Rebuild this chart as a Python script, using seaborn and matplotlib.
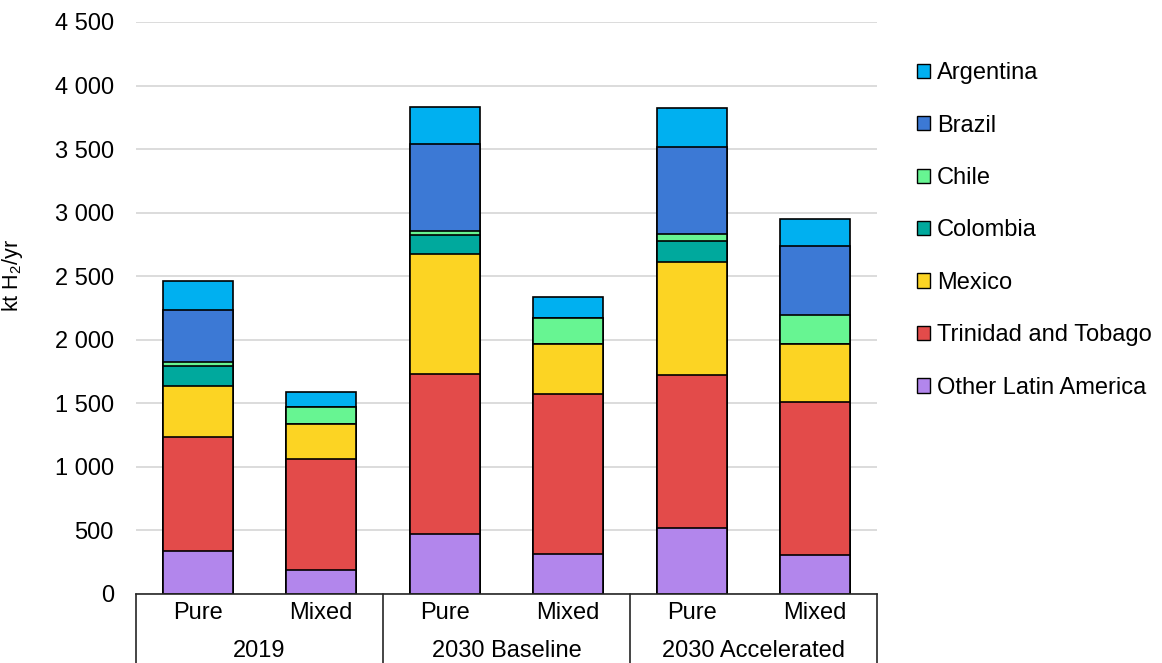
"""
Latin America hydrogen demand, stacked by country
"""
import numpy as np
import pandas as pd
import matplotlib
matplotlib.use('Agg')
import matplotlib.pyplot as plt
import matplotlib.transforms as mtransforms
from matplotlib.patches import Patch
from matplotlib.ticker import FuncFormatter, MultipleLocator
import seaborn as sns

# Data (kt H2/yr), bar order: 2019 Pure/Mixed, 2030 Baseline Pure/Mixed, 2030 Accelerated Pure/Mixed
scenarios = ['2019', '2030 Baseline', '2030 Accelerated']
types = ['Pure', 'Mixed']

other = [340, 183, 471, 312, 521, 304]
trinidad = [895, 877, 1258, 1263, 1203, 1206]
mexico = [400, 275, 948, 393, 887, 453]
colombia = [155, 0, 147, 0, 168, 6]
chile = [30, 135, 33, 201, 52, 227]
brazil = [410, 0, 686, 0, 688, 539]
argentina = [235, 118, 285, 168, 304, 217]

# bottom to top of the stack
countries = ['Other Latin America', 'Trinidad and Tobago', 'Mexico', 'Colombia',
             'Chile', 'Brazil', 'Argentina']
colors = ['#B286EC', '#E34B4A', '#FCD423', '#00A99D', '#67F592', '#3C79D5', '#00B0F0']

# Setup
sns.set_style('white')
plt.rcParams['font.family'] = ['Liberation Sans', 'DejaVu Sans']
plt.rcParams['mathtext.default'] = 'regular'
plt.rcParams['text.color'] = 'black'
plt.rcParams['xtick.color'] = 'black'
plt.rcParams['ytick.color'] = 'black'
plt.rcParams['axes.labelcolor'] = 'black'
FS = 17

bars = [f'{s}|{t}' for s in scenarios for t in types]
df = pd.DataFrame({'bar': bars, 'Other Latin America': other, 'Trinidad and Tobago': trinidad,
                   'Mexico': mexico, 'Colombia': colombia, 'Chile': chile,
                   'Brazil': brazil, 'Argentina': argentina})
cum = df[countries].cumsum(axis=1)

W, H = 1162, 663
fig = plt.figure(figsize=(W / 100, H / 100), dpi=100)
ax = fig.add_axes([136 / W, 1 - 593.7 / H, (877 - 136) / W, 571.7 / H])

# draw cumulative totals from the top layer down so each layer covers the one above
for country, color in reversed(list(zip(countries, colors))):
    sns.barplot(x=df['bar'], y=cum[country], order=bars, color=color, saturation=1,
                edgecolor='black', linewidth=1.2, width=0.567, errorbar=None, ax=ax)

ax.set_xlim(-0.5, len(bars) - 0.5)
ax.set_ylim(0, 4500)
ax.yaxis.set_major_locator(MultipleLocator(500))
ax.yaxis.set_major_formatter(FuncFormatter(lambda v, p: f'{int(v):,}'.replace(',', ' ')))
ax.grid(axis='y', color='#D9D9D9', linewidth=1.3)
ax.set_axisbelow(True)
for side in ['left', 'right', 'top']:
    ax.spines[side].set_visible(False)
ax.spines['bottom'].set_color('#262626')
ax.spines['bottom'].set_linewidth(1.2)

ax.tick_params(axis='y', length=0, pad=16, labelsize=FS)
ax.tick_params(axis='x', length=0, pad=6, labelsize=FS)
ax.set_xticks(range(len(bars)))
ax.set_xticklabels([b.split('|')[1] for b in bars])
ax.set_xlabel('')
ax.set_ylabel('kt H$_2$/yr', fontsize=15.5)
ax.yaxis.set_label_coords(-0.150, 0.557)

# multi-level category axis
trans = mtransforms.blended_transform_factory(ax.transData, ax.transAxes)
for i, s in enumerate(scenarios):
    ax.text(2 * i + 0.5, -57.3 / 571.7, s, transform=trans, ha='center', va='center', fontsize=FS)
for xv in np.arange(-0.5, len(bars), 2):
    ax.plot([xv, xv], [0, -0.13], transform=trans, color='#262626', lw=1.2, clip_on=False)

handles = [Patch(facecolor=c, edgecolor='black', linewidth=1) for c in reversed(colors)]
fig.legend(handles, list(reversed(countries)), loc='center left',
           bbox_to_anchor=(917 / W, 1 - 230.5 / H), frameon=False, fontsize=FS,
           borderpad=0, borderaxespad=0, handlelength=0.55, handleheight=0.55,
           handletextpad=0.3, labelspacing=1.29)

fig.savefig('out.png', dpi=100)
plt.close()
